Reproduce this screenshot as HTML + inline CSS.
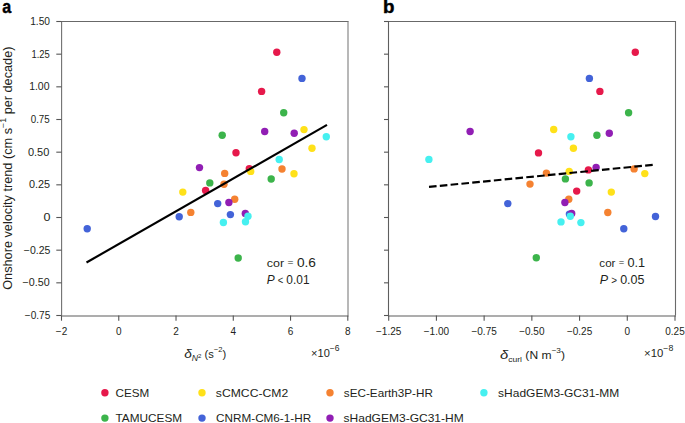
<!DOCTYPE html><html><head><meta charset="utf-8"><style>html,body{margin:0;padding:0;background:#fff;width:685px;height:423px;overflow:hidden}svg{display:block}text{font-family:"Liberation Sans",sans-serif;fill:#231f20}</style></head><body>
<svg width="685" height="423" viewBox="0 0 685 423">
<text id="la" x="2.15" y="12.60" font-size="18" textLength="8.98" lengthAdjust="spacingAndGlyphs" font-weight="bold" style="fill:#000;stroke:#000;stroke-width:0.4">a</text>
<text id="lb" x="382.93" y="12.60" font-size="18" textLength="11.46" lengthAdjust="spacingAndGlyphs" font-weight="bold" style="fill:#000;stroke:#000;stroke-width:0.4">b</text>
<path d="M61.05 21.50H348.55" stroke="#686868" stroke-width="1.1" fill="none"/>
<path d="M61.05 315.95H348.55" stroke="#5c5c5c" stroke-width="1.1" fill="none"/>
<path d="M61.60 21.50V315.50" stroke="#707070" stroke-width="1.1" fill="none"/>
<path d="M348.00 21.50V315.50" stroke="#7e7e7e" stroke-width="1.1" fill="none"/>
<path d="M387.95 21.50H676.05" stroke="#686868" stroke-width="1.1" fill="none"/>
<path d="M387.95 315.95H676.05" stroke="#5c5c5c" stroke-width="1.1" fill="none"/>
<path d="M388.50 21.50V315.50" stroke="#5e5e5e" stroke-width="1.1" fill="none"/>
<path d="M675.50 21.50V315.50" stroke="#6a6a6a" stroke-width="1.1" fill="none"/>
<line x1="56.3" x2="61.50" y1="21.50" y2="21.50" stroke="#555" stroke-width="1.1"/>
<line x1="384" x2="388.70" y1="21.50" y2="21.50" stroke="#555" stroke-width="1.1"/>
<text id="y150" x="50.04" y="25.10" font-size="10" textLength="19.88" lengthAdjust="spacingAndGlyphs" text-anchor="end">1.50</text>
<line x1="56.3" x2="61.50" y1="54.17" y2="54.17" stroke="#555" stroke-width="1.1"/>
<line x1="384" x2="388.70" y1="54.17" y2="54.17" stroke="#555" stroke-width="1.1"/>
<text id="y125" x="49.79" y="57.77" font-size="10" textLength="18.30" lengthAdjust="spacingAndGlyphs" text-anchor="end">1.25</text>
<line x1="56.3" x2="61.50" y1="86.83" y2="86.83" stroke="#555" stroke-width="1.1"/>
<line x1="384" x2="388.70" y1="86.83" y2="86.83" stroke="#555" stroke-width="1.1"/>
<text id="y100" x="49.51" y="90.43" font-size="10" textLength="20.36" lengthAdjust="spacingAndGlyphs" text-anchor="end">1.00</text>
<line x1="56.3" x2="61.50" y1="119.50" y2="119.50" stroke="#555" stroke-width="1.1"/>
<line x1="384" x2="388.70" y1="119.50" y2="119.50" stroke="#555" stroke-width="1.1"/>
<text id="y75" x="49.74" y="123.10" font-size="10" textLength="19.05" lengthAdjust="spacingAndGlyphs" text-anchor="end">0.75</text>
<line x1="56.3" x2="61.50" y1="152.17" y2="152.17" stroke="#555" stroke-width="1.1"/>
<line x1="384" x2="388.70" y1="152.17" y2="152.17" stroke="#555" stroke-width="1.1"/>
<text id="y50" x="49.31" y="155.77" font-size="10" textLength="21.40" lengthAdjust="spacingAndGlyphs" text-anchor="end">0.50</text>
<line x1="56.3" x2="61.50" y1="184.83" y2="184.83" stroke="#555" stroke-width="1.1"/>
<line x1="384" x2="388.70" y1="184.83" y2="184.83" stroke="#555" stroke-width="1.1"/>
<text id="y25" x="50.07" y="188.43" font-size="10" textLength="21.10" lengthAdjust="spacingAndGlyphs" text-anchor="end">0.25</text>
<line x1="56.3" x2="61.50" y1="217.50" y2="217.50" stroke="#555" stroke-width="1.1"/>
<line x1="384" x2="388.70" y1="217.50" y2="217.50" stroke="#555" stroke-width="1.1"/>
<text id="y0" x="50.56" y="221.10" font-size="10" textLength="6.97" lengthAdjust="spacingAndGlyphs" text-anchor="end">0</text>
<line x1="56.3" x2="61.50" y1="250.17" y2="250.17" stroke="#555" stroke-width="1.1"/>
<line x1="384" x2="388.70" y1="250.17" y2="250.17" stroke="#555" stroke-width="1.1"/>
<text id="y-25" x="50.34" y="253.77" font-size="10" textLength="26.58" lengthAdjust="spacingAndGlyphs" text-anchor="end">−0.25</text>
<line x1="56.3" x2="61.50" y1="282.83" y2="282.83" stroke="#555" stroke-width="1.1"/>
<line x1="384" x2="388.70" y1="282.83" y2="282.83" stroke="#555" stroke-width="1.1"/>
<text id="y-50" x="49.64" y="286.43" font-size="10" textLength="27.15" lengthAdjust="spacingAndGlyphs" text-anchor="end">−0.50</text>
<line x1="56.3" x2="61.50" y1="315.50" y2="315.50" stroke="#555" stroke-width="1.1"/>
<line x1="384" x2="388.70" y1="315.50" y2="315.50" stroke="#555" stroke-width="1.1"/>
<text id="y-75" x="50.27" y="319.10" font-size="10" textLength="25.48" lengthAdjust="spacingAndGlyphs" text-anchor="end">−0.75</text>
<line x1="61.50" x2="61.50" y1="315.50" y2="320.7" stroke="#555" stroke-width="1.1"/>
<text x="61.50" y="334.6" font-size="10" text-anchor="middle">−2</text>
<line x1="118.76" x2="118.76" y1="315.50" y2="320.7" stroke="#555" stroke-width="1.1"/>
<text x="118.76" y="334.6" font-size="10" text-anchor="middle">0</text>
<line x1="176.02" x2="176.02" y1="315.50" y2="320.7" stroke="#555" stroke-width="1.1"/>
<text x="176.02" y="334.6" font-size="10" text-anchor="middle">2</text>
<line x1="233.28" x2="233.28" y1="315.50" y2="320.7" stroke="#555" stroke-width="1.1"/>
<text x="233.28" y="334.6" font-size="10" text-anchor="middle">4</text>
<line x1="290.54" x2="290.54" y1="315.50" y2="320.7" stroke="#555" stroke-width="1.1"/>
<text x="290.54" y="334.6" font-size="10" text-anchor="middle">6</text>
<line x1="347.80" x2="347.80" y1="315.50" y2="320.7" stroke="#555" stroke-width="1.1"/>
<text x="347.80" y="334.6" font-size="10" text-anchor="middle">8</text>
<line x1="388.70" x2="388.70" y1="315.50" y2="320.7" stroke="#555" stroke-width="1.1"/>
<text x="388.70" y="334.6" font-size="10" text-anchor="middle">−1.25</text>
<line x1="436.42" x2="436.42" y1="315.50" y2="320.7" stroke="#555" stroke-width="1.1"/>
<text x="436.42" y="334.6" font-size="10" text-anchor="middle">−1.00</text>
<line x1="484.13" x2="484.13" y1="315.50" y2="320.7" stroke="#555" stroke-width="1.1"/>
<text x="484.13" y="334.6" font-size="10" text-anchor="middle">−0.75</text>
<line x1="531.85" x2="531.85" y1="315.50" y2="320.7" stroke="#555" stroke-width="1.1"/>
<text x="531.85" y="334.6" font-size="10" text-anchor="middle">−0.50</text>
<line x1="579.57" x2="579.57" y1="315.50" y2="320.7" stroke="#555" stroke-width="1.1"/>
<text x="579.57" y="334.6" font-size="10" text-anchor="middle">−0.25</text>
<line x1="627.28" x2="627.28" y1="315.50" y2="320.7" stroke="#555" stroke-width="1.1"/>
<text x="627.28" y="334.6" font-size="10" text-anchor="middle">0</text>
<line x1="675.00" x2="675.00" y1="315.50" y2="320.7" stroke="#555" stroke-width="1.1"/>
<text x="675.00" y="334.6" font-size="10" text-anchor="middle">0.25</text>
<circle cx="224.7" cy="173.4" r="3.70" fill="#f58231"/>
<circle cx="282.0" cy="169.0" r="3.70" fill="#f58231"/>
<circle cx="224.0" cy="184.2" r="3.70" fill="#f58231"/>
<circle cx="234.7" cy="199.3" r="3.70" fill="#f58231"/>
<circle cx="190.8" cy="212.4" r="3.70" fill="#f58231"/>
<circle cx="283.7" cy="112.7" r="3.70" fill="#3cb44b"/>
<circle cx="222.2" cy="135.2" r="3.70" fill="#3cb44b"/>
<circle cx="271.2" cy="179.0" r="3.70" fill="#3cb44b"/>
<circle cx="209.8" cy="182.9" r="3.70" fill="#3cb44b"/>
<circle cx="238.2" cy="258.0" r="3.70" fill="#3cb44b"/>
<circle cx="276.8" cy="52.2" r="3.70" fill="#e6194b"/>
<circle cx="261.6" cy="91.4" r="3.70" fill="#e6194b"/>
<circle cx="236.0" cy="152.8" r="3.70" fill="#e6194b"/>
<circle cx="249.3" cy="168.8" r="3.70" fill="#e6194b"/>
<circle cx="205.6" cy="190.5" r="3.70" fill="#e6194b"/>
<circle cx="304.0" cy="129.6" r="3.70" fill="#ffe119"/>
<circle cx="312.0" cy="148.2" r="3.70" fill="#ffe119"/>
<circle cx="250.7" cy="171.4" r="3.70" fill="#ffe119"/>
<circle cx="294.0" cy="173.7" r="3.70" fill="#ffe119"/>
<circle cx="182.8" cy="192.1" r="3.70" fill="#ffe119"/>
<circle cx="302.0" cy="78.4" r="3.70" fill="#4363d8"/>
<circle cx="217.7" cy="203.6" r="3.70" fill="#4363d8"/>
<circle cx="230.4" cy="214.6" r="3.70" fill="#4363d8"/>
<circle cx="179.2" cy="216.7" r="3.70" fill="#4363d8"/>
<circle cx="87.2" cy="228.7" r="3.70" fill="#4363d8"/>
<circle cx="264.7" cy="131.5" r="3.70" fill="#911eb4"/>
<circle cx="294.2" cy="133.3" r="3.70" fill="#911eb4"/>
<circle cx="199.5" cy="167.6" r="3.70" fill="#911eb4"/>
<circle cx="228.9" cy="202.5" r="3.70" fill="#911eb4"/>
<circle cx="245.3" cy="213.5" r="3.70" fill="#911eb4"/>
<circle cx="326.3" cy="136.7" r="3.70" fill="#46f0f0"/>
<circle cx="279.2" cy="159.5" r="3.70" fill="#46f0f0"/>
<circle cx="248.0" cy="216.2" r="3.70" fill="#46f0f0"/>
<circle cx="223.4" cy="222.5" r="3.70" fill="#46f0f0"/>
<circle cx="245.5" cy="221.8" r="3.70" fill="#46f0f0"/>
<circle cx="546.4" cy="173.1" r="3.70" fill="#f58231"/>
<circle cx="634.1" cy="168.9" r="3.70" fill="#f58231"/>
<circle cx="530.0" cy="184.1" r="3.70" fill="#f58231"/>
<circle cx="568.8" cy="199.2" r="3.70" fill="#f58231"/>
<circle cx="607.8" cy="212.5" r="3.70" fill="#f58231"/>
<circle cx="628.6" cy="112.7" r="3.70" fill="#3cb44b"/>
<circle cx="596.9" cy="135.2" r="3.70" fill="#3cb44b"/>
<circle cx="565.4" cy="178.9" r="3.70" fill="#3cb44b"/>
<circle cx="589.1" cy="182.9" r="3.70" fill="#3cb44b"/>
<circle cx="536.3" cy="257.8" r="3.70" fill="#3cb44b"/>
<circle cx="635.3" cy="52.2" r="3.70" fill="#e6194b"/>
<circle cx="599.9" cy="91.4" r="3.70" fill="#e6194b"/>
<circle cx="538.5" cy="152.9" r="3.70" fill="#e6194b"/>
<circle cx="588.4" cy="169.9" r="3.70" fill="#e6194b"/>
<circle cx="576.7" cy="191.1" r="3.70" fill="#e6194b"/>
<circle cx="553.7" cy="129.5" r="3.70" fill="#ffe119"/>
<circle cx="573.4" cy="148.2" r="3.70" fill="#ffe119"/>
<circle cx="569.2" cy="171.4" r="3.70" fill="#ffe119"/>
<circle cx="644.8" cy="173.6" r="3.70" fill="#ffe119"/>
<circle cx="611.3" cy="192.1" r="3.70" fill="#ffe119"/>
<circle cx="589.4" cy="78.4" r="3.70" fill="#4363d8"/>
<circle cx="507.8" cy="203.6" r="3.70" fill="#4363d8"/>
<circle cx="569.4" cy="214.1" r="3.70" fill="#4363d8"/>
<circle cx="655.5" cy="216.5" r="3.70" fill="#4363d8"/>
<circle cx="623.8" cy="228.7" r="3.70" fill="#4363d8"/>
<circle cx="470.1" cy="131.5" r="3.70" fill="#911eb4"/>
<circle cx="609.3" cy="133.2" r="3.70" fill="#911eb4"/>
<circle cx="596.1" cy="167.4" r="3.70" fill="#911eb4"/>
<circle cx="564.9" cy="202.5" r="3.70" fill="#911eb4"/>
<circle cx="571.7" cy="213.4" r="3.70" fill="#911eb4"/>
<circle cx="570.9" cy="136.7" r="3.70" fill="#46f0f0"/>
<circle cx="428.9" cy="159.4" r="3.70" fill="#46f0f0"/>
<circle cx="570.3" cy="216.3" r="3.70" fill="#46f0f0"/>
<circle cx="561.0" cy="221.9" r="3.70" fill="#46f0f0"/>
<circle cx="580.9" cy="222.6" r="3.70" fill="#46f0f0"/>
<line x1="86.5" y1="262.5" x2="327" y2="124.9" stroke="#000" stroke-width="2.15"/>
<line x1="429" y1="186.9" x2="653" y2="164.8" stroke="#000" stroke-width="2.15" stroke-dasharray="7.6 3.26"/>
<g transform="translate(12.2,290) rotate(-90)"><text id="ylab" x="0.21" y="0.00" font-size="12.2" textLength="243.30" lengthAdjust="spacingAndGlyphs">Onshore velocity trend (cm s<tspan font-size="8.5" dy="-6.6">−1</tspan><tspan dy="6.6"> per decade)</tspan></text></g>
<text id="xla" x="184.16" y="357.70" font-size="11" textLength="41.95" lengthAdjust="spacingAndGlyphs"><tspan font-style="italic" font-size="13.5">δ</tspan><tspan font-style="italic" font-size="8.6" dy="3">N</tspan><tspan font-size="6" dy="-3.2">2</tspan><tspan dy="0.2"></tspan><tspan dy="0"> (s</tspan><tspan font-size="7.5" dy="-5.6">−2</tspan><tspan dy="5.6">)</tspan></text>
<text id="xta" x="311.11" y="356.80" font-size="11" textLength="28.49" lengthAdjust="spacingAndGlyphs">×10<tspan font-size="8.5" dy="-6">−6</tspan></text>
<text id="xtb" x="644.05" y="356.80" font-size="11" textLength="29.22" lengthAdjust="spacingAndGlyphs">×10<tspan font-size="8.5" dy="-6">−8</tspan></text>
<text id="xlb" x="499.99" y="359.00" font-size="11" textLength="64.94" lengthAdjust="spacingAndGlyphs"><tspan font-style="italic" font-size="13.5">δ</tspan><tspan font-size="7.8" dy="3">curl</tspan><tspan dy="-3"> (N m</tspan><tspan font-size="7.5" dy="-5.8">−3</tspan><tspan dy="5.8">)</tspan></text>
<text id="ca" x="266.71" y="266.80" font-size="11.5" textLength="49.26" lengthAdjust="spacingAndGlyphs">cor <tspan font-size="9.4" dy="-1.7">=</tspan><tspan dy="1.7"> </tspan><tspan font-size="12.6">0.6</tspan></text>
<text id="pa" x="266.87" y="283.80" font-size="11.5" textLength="42.63" lengthAdjust="spacingAndGlyphs"><tspan font-style="italic" font-size="12.6">P</tspan> <tspan font-size="10">&lt;</tspan> <tspan font-size="12.6">0.01</tspan></text>
<text id="cb" x="599.38" y="266.80" font-size="11.5" textLength="45.75" lengthAdjust="spacingAndGlyphs">cor <tspan font-size="9.4" dy="-1.7">=</tspan><tspan dy="1.7"> </tspan><tspan font-size="12.6">0.1</tspan></text>
<text id="pb" x="599.70" y="283.80" font-size="11.5" textLength="44.72" lengthAdjust="spacingAndGlyphs"><tspan font-style="italic" font-size="12.6">P</tspan> <tspan font-size="10">&gt;</tspan> <tspan font-size="12.6">0.05</tspan></text>
<circle cx="104.9" cy="392.7" r="3.70" fill="#e6194b"/>
<text id="l1" x="115.49" y="396.80" font-size="11.6" textLength="33.74" lengthAdjust="spacingAndGlyphs">CESM</text>
<circle cx="202.0" cy="392.7" r="3.70" fill="#ffe119"/>
<text id="l2" x="215.84" y="396.80" font-size="11.6" textLength="72.36" lengthAdjust="spacingAndGlyphs">sCMCC-CM2</text>
<circle cx="330.0" cy="392.7" r="3.70" fill="#f58231"/>
<text id="l3" x="343.83" y="396.80" font-size="11.6" textLength="89.08" lengthAdjust="spacingAndGlyphs">sEC-Earth3P-HR</text>
<circle cx="483.9" cy="392.7" r="3.70" fill="#46f0f0"/>
<text id="l4" x="498.13" y="396.80" font-size="11.6" textLength="121.15" lengthAdjust="spacingAndGlyphs">sHadGEM3-GC31-MM</text>
<circle cx="104.9" cy="418.1" r="3.70" fill="#3cb44b"/>
<text id="l5" x="115.53" y="422.20" font-size="11.6" textLength="66.64" lengthAdjust="spacingAndGlyphs">TAMUCESM</text>
<circle cx="202.0" cy="418.1" r="3.70" fill="#4363d8"/>
<text id="l6" x="216.10" y="422.20" font-size="11.6" textLength="95.02" lengthAdjust="spacingAndGlyphs">CNRM-CM6-1-HR</text>
<circle cx="330.0" cy="418.1" r="3.70" fill="#911eb4"/>
<text id="l7" x="343.56" y="422.20" font-size="11.6" textLength="120.18" lengthAdjust="spacingAndGlyphs">sHadGEM3-GC31-HM</text>
</svg></body></html>
